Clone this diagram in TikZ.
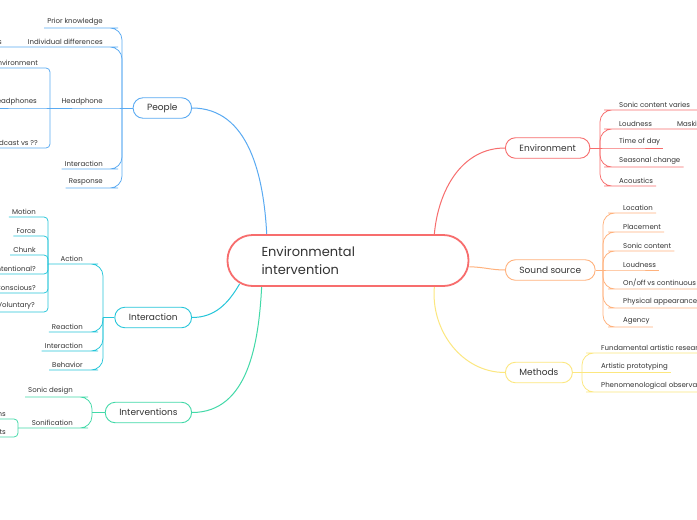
\documentclass[tikz,border=0pt]{standalone}
\usepackage{fontspec}
\setmainfont{Poppins}
\usetikzlibrary{
    backgrounds,
    positioning,
    calc
}

\definecolor{peoplec}{HTML}{5AAAF2}
\definecolor{interc}{HTML}{26C6DA}
\definecolor{intvc}{HTML}{42D9A8}
\definecolor{envc}{HTML}{F76D6D}
\definecolor{soundc}{HTML}{FFB27D}
\definecolor{methc}{HTML}{FCE77F}
\definecolor{textc}{HTML}{333333}

\begin{document}
\begin{tikzpicture}[x=1pt, y=-1pt,
    every node/.style={text=textc},
    root/.style={draw=envc, line width=1.8pt, fill=white, rounded corners=25pt,
        align=left, text width=173pt, inner xsep=34pt, minimum height=51pt,
        font=\fontsize{13}{18}\selectfont},
    topic/.style={draw, line width=0.9pt, fill=white, rounded corners=10pt,
        inner xsep=14pt, minimum height=20.5pt, font=\fontsize{9}{10}\selectfont},
    leaf/.style={inner xsep=3pt, inner ysep=2pt, font=\fontsize{7}{8}\selectfont},
    branch/.style={line width=1pt},
    twig/.style={line width=0.75pt, rounded corners=12pt},
    fork/.style={line width=0.75pt, rounded corners=4pt}
]
    \useasboundingbox (0,0) rectangle (697,520);
    \clip (0,0) rectangle (697,520);

    % Central topic
    \node[root] (ei) at (348,260.5) {Environmental\\intervention};

    % Main topics
    \node[topic, draw=peoplec, anchor=east] (people) at (192,108) {People};
    \node[topic, draw=interc, anchor=east] (interaction) at (192,317.5) {Interaction};
    \node[topic, draw=intvc, anchor=east] (interventions) at (192,412.5) {Interventions};
    \node[topic, draw=envc, anchor=west] (environment) at (505,148) {Environment};
    \node[topic, draw=soundc, anchor=west] (soundsrc) at (505,270) {Sound source};
    \node[topic, draw=methc, anchor=west] (methods) at (505,372.5) {Methods};

    % People
    \coordinate (jPeople) at (122,108);
    \coordinate (jHead) at (50,108);
    \node[leaf, anchor=south east] (prior) at (106,28) {Prior knowledge};
    \node[leaf, anchor=south east] (indiv) at (106,47) {Individual differences};
    \node[leaf, anchor=south east] (indivs) at (5,47) {s};
    \node[leaf, anchor=south east] (headph) at (106,108) {Headphone};
    \node[leaf, anchor=south east] (hpenv) at (41,68) {nvironment};
    \node[leaf, anchor=south east] (hphead) at (40,108) {eadphones};
    \node[leaf, anchor=south east] (hpcast) at (41,148) {dcast vs ??};
    \node[leaf, anchor=south east] (pinter) at (106,169) {Interaction};
    \node[leaf, anchor=south east] (response) at (106,188) {Response};

    % Interaction
    \coordinate (jInter) at (103,317.5);
    \coordinate (jAction) at (48,264);
    \node[leaf, anchor=south east] (action) at (86,264) {Action};
    \node[leaf, anchor=south east] (motion) at (39,217) {Motion};
    \node[leaf, anchor=south east] (force) at (39,236) {Force};
    \node[leaf, anchor=south east] (chunk) at (39,255) {Chunk};
    \node[leaf, anchor=south east] (intent) at (39,274) {ntentional?};
    \node[leaf, anchor=south east] (conscious) at (39,293) {Conscious?};
    \node[leaf, anchor=south east] (volunt) at (38,312) {Voluntary?};
    \node[leaf, anchor=south east] (reaction) at (86,332) {Reaction};
    \node[leaf, anchor=south east] (iinter) at (86,351) {Interaction};
    \node[leaf, anchor=south east] (behavior) at (86,370) {Behavior};

    % Interventions
    \coordinate (jIntv) at (92,412.5);
    \coordinate (jSon) at (18,428);
    \node[leaf, anchor=south east] (sonicd) at (76,397) {Sonic design};
    \node[leaf, anchor=south east] (sonif) at (76,428) {Sonification};
    \node[leaf, anchor=south east] (sonns) at (9,419) {ns};
    \node[leaf, anchor=south east] (sonts) at (9,437) {ts};

    % Environment
    \coordinate (jEnv) at (600,148);
    \node[leaf, anchor=south west] (varies) at (616,110) {Sonic content varies};
    \node[leaf, anchor=south west] (eloud) at (616,129) {Loudness};
    \node[leaf, anchor=south west] (mask) at (674,129) {Maski};
    \node[leaf, anchor=south west] (tod) at (616,148) {Time of day};
    \node[leaf, anchor=south west] (season) at (616,167) {Seasonal change};
    \node[leaf, anchor=south west] (acoust) at (616,186) {Acoustics};

    % Sound source
    \coordinate (jSound) at (603,270);
    \node[leaf, anchor=south west] (loc) at (620,213) {Location};
    \node[leaf, anchor=south west] (place) at (620,232) {Placement};
    \node[leaf, anchor=south west] (sonicc) at (620,251) {Sonic content};
    \node[leaf, anchor=south west] (sloud) at (620,270) {Loudness};
    \node[leaf, anchor=south west] (onoff) at (620,289) {On/off vs continuous};
    \node[leaf, anchor=south west] (phys) at (620,308) {Physical appearance o};
    \node[leaf, anchor=south west] (agency) at (620,327) {Agency};

    % Methods
    \coordinate (jMeth) at (582,372.5);
    \node[leaf, anchor=south west] (fund) at (598,353) {Fundamental artistic researc};
    \node[leaf, anchor=south west] (proto) at (598,372.5) {Artistic prototyping};
    \node[leaf, anchor=south west] (phen) at (598,392) {Phenomenological observat};

    \begin{scope}[on background layer]
        \fill[white] (0,0) rectangle (697,520);

        % Branches from the centre
        \draw[branch, peoplec] (people.east) to[out=0, in=93] (ei.162.6);
        \draw[branch, interc] (interaction.east) to[out=0, in=240] ($(ei.south west)+(13,-3)$);
        \draw[branch, intvc] (interventions.east) to[out=0, in=-93] (ei.197.8);
        \draw[branch, envc] (environment.west) to[out=180, in=85] (ei.17.5);
        \draw[branch, soundc] (soundsrc.west) to[out=180, in=0] (ei.-3.5);
        \draw[branch, methc] (methods.west) to[out=180, in=-95] (ei.-17.5);

        % People
        \draw[branch, peoplec] (people.west) -- (jPeople);
        \draw[twig, peoplec] (jPeople) |- (prior.south east) -- (prior.south west);
        \draw[twig, peoplec] (jPeople) |- (indiv.south east) -- (indivs.south west) -- ++(-10,0);
        \draw[twig, peoplec] (jPeople) -- (headph.south east) -- (jHead);
        \draw[fork, peoplec] (jHead) |- (hpenv.south east) -- ++(-60,0);
        \draw[fork, peoplec] (jHead) -- (hphead.south east) -- ++(-60,0);
        \draw[fork, peoplec] (jHead) |- (hpcast.south east) -- ++(-60,0);
        \draw[twig, peoplec] (jPeople) |- (pinter.south east) -- (pinter.south west);
        \draw[twig, peoplec] (jPeople) |- (response.south east) -- (response.south west);

        % Interaction
        \draw[branch, interc] (interaction.west) -- (jInter);
        \draw[twig, interc] (jInter) |- (action.south east) -- (jAction);
        \draw[fork, interc] (jAction) |- (motion.south east) -- (motion.south west);
        \draw[fork, interc] (jAction) |- (force.south east) -- (force.south west);
        \draw[fork, interc] (jAction) |- (chunk.south east) -- (chunk.south west);
        \draw[fork, interc] (jAction) |- (intent.south east) -- ++(-60,0);
        \draw[fork, interc] (jAction) |- (conscious.south east) -- ++(-60,0);
        \draw[fork, interc] (jAction) |- (volunt.south east) -- ++(-60,0);
        \draw[twig, interc] (jInter) |- (reaction.south east) -- (reaction.south west);
        \draw[twig, interc] (jInter) |- (iinter.south east) -- (iinter.south west);
        \draw[twig, interc] (jInter) |- (behavior.south east) -- (behavior.south west);

        % Interventions
        \draw[branch, intvc] (interventions.west) -- (jIntv);
        \draw[twig, intvc] (jIntv) |- (sonicd.south east) -- (sonicd.south west);
        \draw[twig, intvc] (jIntv) |- (sonif.south east) -- (jSon);
        \draw[fork, intvc] (jSon) |- (sonns.south east) -- ++(-30,0);
        \draw[fork, intvc] (jSon) |- (sonts.south east) -- ++(-30,0);

        % Environment
        \draw[branch, envc] (environment.east) -- (jEnv);
        \draw[twig, envc] (jEnv) |- (varies.south west) -- ++(100,0);
        \draw[twig, envc] (jEnv) |- (eloud.south west) -- (mask.south west) -- ++(60,0);
        \draw[twig, envc] (jEnv) -- (tod.south west) -- (tod.south east);
        \draw[twig, envc] (jEnv) |- (season.south west) -- (season.south east);
        \draw[twig, envc] (jEnv) |- (acoust.south west) -- (acoust.south east);

        % Sound source
        \draw[branch, soundc] (soundsrc.east) -- (jSound);
        \draw[twig, soundc] (jSound) |- (loc.south west) -- (loc.south east);
        \draw[twig, soundc] (jSound) |- (place.south west) -- (place.south east);
        \draw[twig, soundc] (jSound) |- (sonicc.south west) -- (sonicc.south east);
        \draw[twig, soundc] (jSound) -- (sloud.south west) -- (sloud.south east);
        \draw[twig, soundc] (jSound) |- (onoff.south west) -- ++(100,0);
        \draw[twig, soundc] (jSound) |- (phys.south west) -- ++(100,0);
        \draw[twig, soundc] (jSound) |- (agency.south west) -- (agency.south east);

        % Methods
        \draw[branch, methc] (methods.east) -- (jMeth);
        \draw[twig, methc] (jMeth) |- (fund.south west) -- ++(120,0);
        \draw[twig, methc] (jMeth) -- (proto.south west) -- (proto.south east);
        \draw[twig, methc] (jMeth) |- (phen.south west) -- ++(120,0);
    \end{scope}
\end{tikzpicture}
\end{document}
